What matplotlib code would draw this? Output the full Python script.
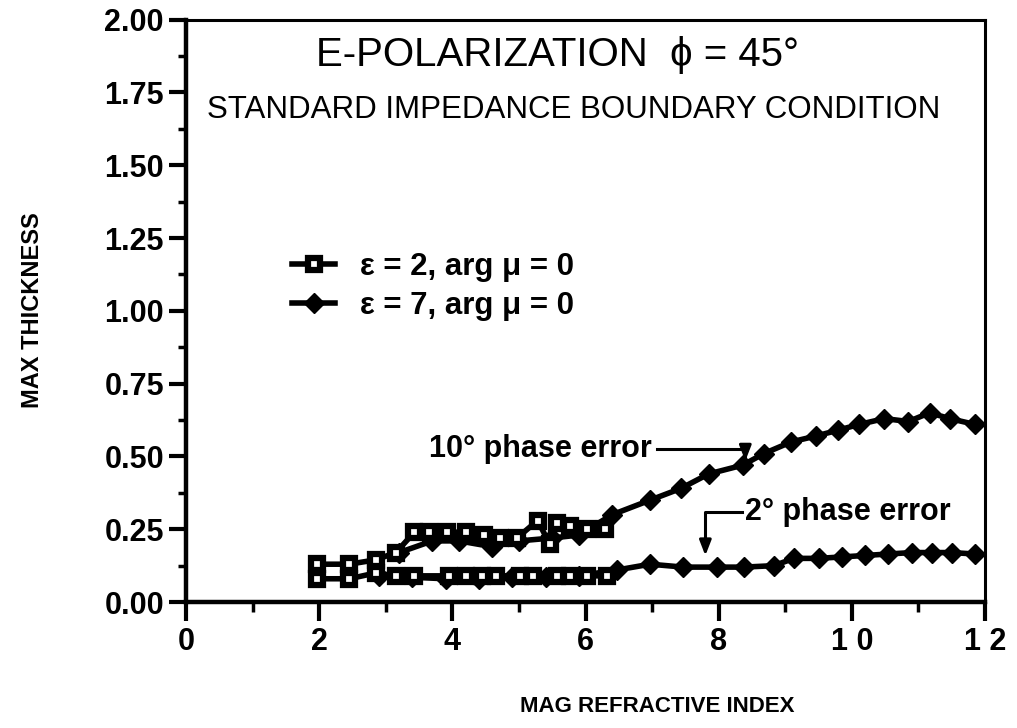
import matplotlib
matplotlib.use("Agg")
import matplotlib.pyplot as plt
from matplotlib.lines import Line2D
from matplotlib.ticker import MultipleLocator

# ---- data ----
sq10_x = [1.97, 2.45, 2.85, 3.15, 3.43, 3.65, 3.92, 4.21, 4.48, 4.71, 4.97, 5.28, 5.46, 5.57, 5.77, 6.02, 6.29]
sq10_y = [0.13, 0.13, 0.145, 0.17, 0.24, 0.24, 0.24, 0.24, 0.23, 0.22, 0.22, 0.28, 0.20, 0.27, 0.26, 0.25, 0.25]

sq2_x = [1.97, 2.45, 2.85, 3.15, 3.43, 3.95, 4.21, 4.45, 4.66, 5.01, 5.21, 5.57, 5.77, 6.02, 6.32]
sq2_y = [0.08, 0.08, 0.10, 0.09, 0.09, 0.09, 0.09, 0.09, 0.09, 0.09, 0.09, 0.09, 0.09, 0.09, 0.09]

dm10_x = [3.2, 3.7, 4.1, 4.6, 5.0, 5.5, 5.9, 6.40, 6.97, 7.43, 7.85, 8.36, 8.68, 9.09, 9.46,
          9.79, 10.11, 10.49, 10.85, 11.17, 11.47, 11.85]
dm10_y = [0.17, 0.21, 0.21, 0.19, 0.21, 0.22, 0.23, 0.30, 0.35, 0.39, 0.44, 0.47, 0.51, 0.55, 0.57,
          0.59, 0.61, 0.63, 0.62, 0.65, 0.63, 0.61]

dm2_x = [2.9, 3.4, 3.9, 4.4, 4.9, 5.4, 5.9, 6.47, 6.97, 7.47, 7.98, 8.38, 8.83, 9.13, 9.5,
         9.85, 10.2, 10.55, 10.9, 11.2, 11.5, 11.85]
dm2_y = [0.09, 0.085, 0.08, 0.08, 0.085, 0.085, 0.09, 0.11, 0.13, 0.12, 0.12, 0.12, 0.125, 0.15, 0.15,
         0.155, 0.16, 0.165, 0.17, 0.17, 0.17, 0.165]

xticks = [0, 2, 4, 6, 8, 10, 12]
xtick_labels = ["0", "2", "4", "6", "8", "1 0", "1 2"]
yticks = [0.0, 0.25, 0.5, 0.75, 1.0, 1.25, 1.5, 1.75, 2.0]
ytick_labels = ["0.00", "0.25", "0.50", "0.75", "1.00", "1.25", "1.50", "1.75", "2.00"]

title = "E-POLARIZATION  ϕ = 45°"
subtitle = "STANDARD IMPEDANCE BOUNDARY CONDITION"
legend_labels = ["ε = 2, arg μ = 0", "ε = 7, arg μ = 0"]
xlabel = "MAG REFRACTIVE INDEX"
ylabel = "MAX THICKNESS"

plt.rcParams['font.family'] = ['Liberation Sans', 'DejaVu Sans']

fig = plt.figure(figsize=(10.17, 7.28), dpi=100)
ax = fig.add_axes([0.183, 0.173, 0.7855, 0.8])

LW = 4.0
sq_style = dict(color='black', lw=LW, marker='s', markersize=9, markerfacecolor='white',
                markeredgecolor='black', markeredgewidth=4.5, zorder=4)
dm_style = dict(color='black', lw=LW, marker='D', markersize=10, markerfacecolor='black',
                markeredgecolor='black', zorder=3)

ax.plot(dm10_x, dm10_y, **dm_style)
ax.plot(dm2_x, dm2_y, **dm_style)
ax.plot(sq10_x, sq10_y, **sq_style)
ax.plot(sq2_x, sq2_y, **sq_style)

ax.set_xlim(0, 12)
ax.set_ylim(0, 2.0)
ax.set_xticks(xticks)
ax.set_xticklabels(xtick_labels)
ax.set_yticks(yticks)
ax.set_yticklabels(ytick_labels)
ax.xaxis.set_minor_locator(MultipleLocator(1))
ax.yaxis.set_minor_locator(MultipleLocator(0.125))

ax.tick_params(axis='both', which='major', direction='out', width=3, labelsize=22)
ax.tick_params(axis='x', which='major', length=14, pad=4)
ax.tick_params(axis='y', which='major', length=12, pad=4)
ax.tick_params(axis='x', which='minor', direction='out', length=7, width=2.5)
ax.tick_params(axis='y', which='minor', direction='out', length=6, width=2.5)
for lab in ax.get_xticklabels() + ax.get_yticklabels():
    lab.set_fontweight('bold')

for side in ['left', 'bottom']:
    ax.spines[side].set_linewidth(3.2)
for side in ['top', 'right']:
    ax.spines[side].set_linewidth(2.2)

fig.text(0.646, 0.03, xlabel, ha='center', va='center', fontsize=16, fontweight='bold')
fig.text(0.032, 0.574, ylabel, ha='center', va='center', rotation=90, fontsize=17, fontweight='bold')

ax.text(0.465, 0.94, title, transform=ax.transAxes, ha='center', va='center', fontsize=29)
ax.text(0.485, 0.845, subtitle, transform=ax.transAxes, ha='center', va='center', fontsize=22.5)

handles = [Line2D([], [], **{k: v for k, v in sq_style.items() if k != 'zorder'}),
           Line2D([], [], **{k: v for k, v in dm_style.items() if k != 'zorder'})]
leg = ax.legend(handles, legend_labels, loc='upper left', bbox_to_anchor=(0.097, 0.65),
                frameon=False, handlelength=1.4, handletextpad=0.8, labelspacing=0.3,
                prop={'size': 22.5, 'weight': 'bold'})

# annotations
ax.text(7.0, 0.525, "10° phase error", ha='right', va='center', fontsize=22, fontweight='bold')
ax.plot([7.08, 8.4, 8.4], [0.525, 0.525, 0.50], color='black', lw=2.2, zorder=5)
ax.annotate("", xy=(8.4, 0.475), xytext=(8.4, 0.51),
            arrowprops=dict(arrowstyle='-|>,head_width=0.35,head_length=0.9', color='black', lw=2.2),
            zorder=6)

ax.text(8.4, 0.31, "2° phase error", ha='left', va='center', fontsize=22, fontweight='bold')
ax.plot([8.35, 7.8, 7.8], [0.31, 0.31, 0.20], color='black', lw=2.2, zorder=5)
ax.annotate("", xy=(7.8, 0.15), xytext=(7.8, 0.21),
            arrowprops=dict(arrowstyle='-|>,head_width=0.35,head_length=0.9', color='black', lw=2.2))

fig.savefig("out.png", dpi=100)
